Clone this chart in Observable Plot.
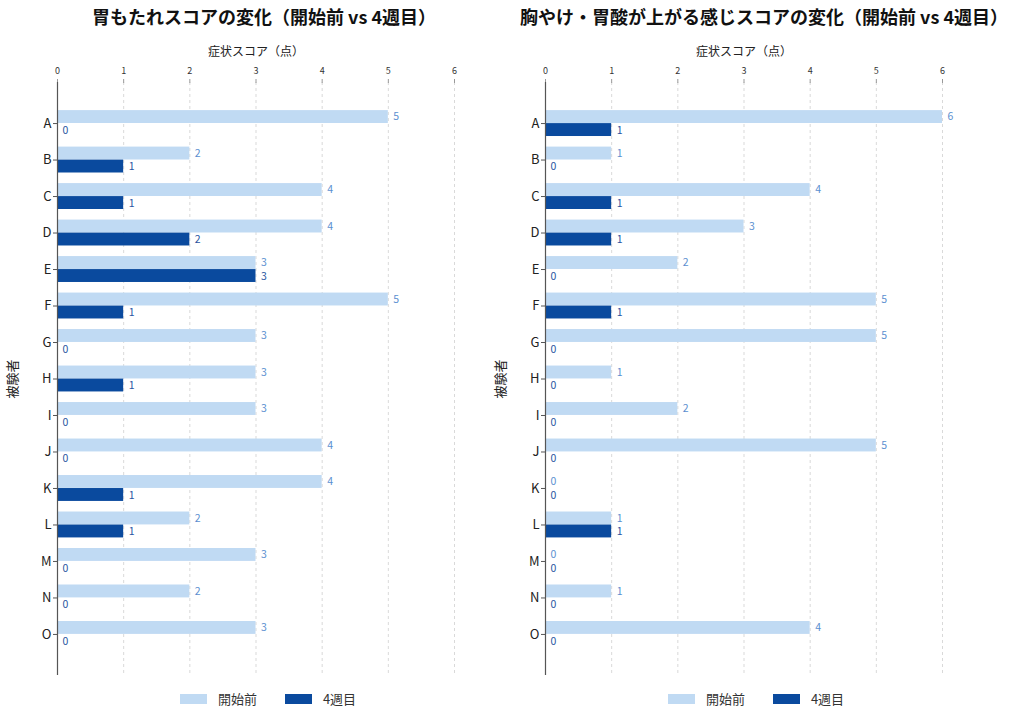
<!DOCTYPE html>
<html>
<head>
<meta charset="utf-8">
<script src="https://cdn.jsdelivr.net/npm/d3@7"></script>
<script src="https://cdn.jsdelivr.net/npm/@observablehq/plot@0.6"></script>
<style>
  html, body { margin: 0; padding: 0; background: #fff; overflow: hidden; }
  body { width: 1024px; height: 719px; position: relative; font-family: "Noto Sans CJK JP", "Noto Sans", sans-serif; }
  .title { position: absolute; top: 3px; width: 600px; text-align: center; font-size: 18px; font-weight: bold; color: #111; }
  .panel { position: absolute; top: 36px; }
  .legend { position: absolute; top: 689px; width: 400px; display: flex; justify-content: center; align-items: center; font-size: 13px; color: #333; }
  .sw { display: inline-block; width: 27px; height: 10px; margin-right: 11px; }
  .item { display: flex; align-items: center; margin: 0 14px; }
</style>
</head>
<body>
<div class="title" style="left:-36px">胃もたれスコアの変化（開始前 vs 4週目）</div>
<div class="title" style="left:464px">胸やけ・胃酸が上がる感じスコアの変化（開始前 vs 4週目）</div>
<div class="panel" id="left" style="left:0px"></div>
<div class="panel" id="right" style="left:488px"></div>
<div class="legend" id="legL" style="left:68px"></div>
<div class="legend" id="legR" style="left:556px"></div>
<script>
const subjects = ["A","B","C","D","E","F","G","H","I","J","K","L","M","N","O"];
const seriesNames = ["開始前", "4週目"];
const seriesColors = ["#c0daf3", "#0a4a9e"];
const labelColors = ["#5b8fd0", "#2a55a0"];
const xTicks = [0, 1, 2, 3, 4, 5, 6];
const xLabel = "症状スコア（点）";
const yLabel = "被験者";

const fullnessBefore = [5, 2, 4, 4, 3, 5, 3, 3, 3, 4, 4, 2, 3, 2, 3];
const fullnessAfter  = [0, 1, 1, 2, 3, 1, 0, 1, 0, 0, 1, 1, 0, 0, 0];
const heartburnBefore = [6, 1, 4, 3, 2, 5, 5, 1, 2, 5, 0, 1, 0, 1, 4];
const heartburnAfter  = [1, 0, 1, 1, 0, 1, 0, 0, 0, 0, 0, 1, 0, 0, 0];

const FONT = '"Noto Sans CJK JP", "Noto Sans", sans-serif';

function makeChart(before, after) {
  const rowsB = subjects.map((s, i) => ({subject: s, series: seriesNames[0], value: before[i]}));
  const rowsA = subjects.map((s, i) => ({subject: s, series: seriesNames[1], value: after[i]}));
  const half = 13;
  return Plot.plot({
    width: 512,
    height: 645,
    marginTop: 46,
    marginLeft: 57,
    marginRight: 58,
    marginBottom: 6,
    style: {fontFamily: FONT, background: "#fff", color: "#333"},
    x: {domain: [0, 6], axis: null},
    y: {domain: subjects, paddingInner: 0.29, paddingOuter: 0.77, round: false, axis: null},
    marks: [
      Plot.gridX(xTicks, {stroke: "#cfcfcf", strokeOpacity: 1, strokeDasharray: "3,3", strokeWidth: 0.8}),
      Plot.axisX(xTicks, {anchor: "top", tickSize: 4, tickPadding: 5, fontSize: 9, label: null, stroke: "#999", fill: "#333"}),
      Plot.text([xLabel], {frameAnchor: "top", dy: -35, fontSize: 12, fill: "#222"}),
      Plot.barX(rowsB, {x: "value", y: "subject", fill: seriesColors[0], insetBottom: half}),
      Plot.barX(rowsA, {x: "value", y: "subject", fill: seriesColors[1], insetTop: half}),
      Plot.text(rowsB, {x: "value", y: "subject", text: d => String(d.value), dx: 5, dy: -6.8, textAnchor: "start", fill: labelColors[0], fontSize: 10.5}),
      Plot.text(rowsA, {x: "value", y: "subject", text: d => String(d.value), dx: 5, dy: 6.8, textAnchor: "start", fill: labelColors[1], fontSize: 10.5}),
      Plot.ruleX([0], {stroke: "#555", strokeWidth: 1.2}),
      Plot.axisY({anchor: "left", tickSize: 4, tickPadding: 2, fontSize: 13, label: null, stroke: "#555", fill: "#222"}),
      Plot.text([yLabel], {frameAnchor: "left", dx: -45, rotate: -90, textAnchor: "middle", fontSize: 13, fill: "#222"})
    ]
  });
}

document.getElementById("left").appendChild(makeChart(fullnessBefore, fullnessAfter));
document.getElementById("right").appendChild(makeChart(heartburnBefore, heartburnAfter));

function makeLegend(el) {
  seriesNames.forEach((name, i) => {
    const item = document.createElement("div");
    item.className = "item";
    const sw = document.createElement("span");
    sw.className = "sw";
    sw.style.background = seriesColors[i];
    const t = document.createElement("span");
    t.textContent = name;
    item.appendChild(sw);
    item.appendChild(t);
    el.appendChild(item);
  });
}
makeLegend(document.getElementById("legL"));
makeLegend(document.getElementById("legR"));
</script>
</body>
</html>
